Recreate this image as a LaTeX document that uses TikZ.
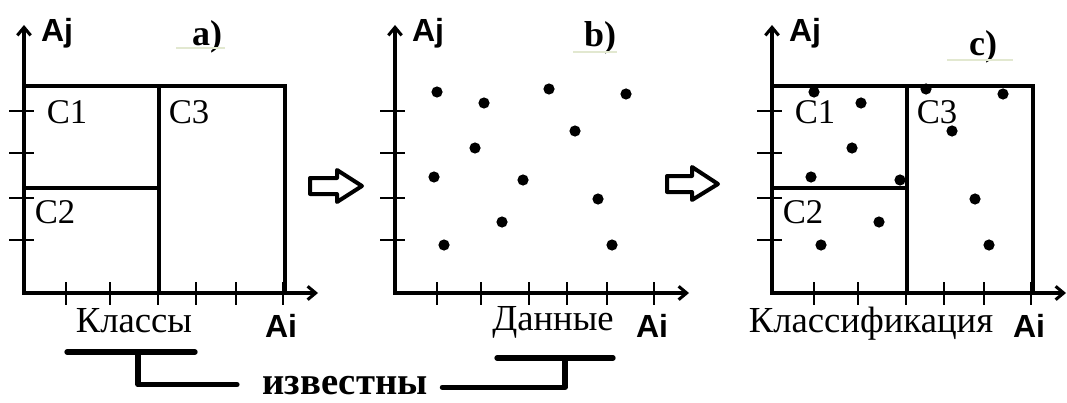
\documentclass[tikz,border=0pt]{standalone}
\usepackage{fontspec}
\setmainfont{Liberation Serif}
\newfontfamily\axisfont{Liberation Sans}
\usetikzlibrary{arrows.meta}

\tikzset{
  axisline/.style={line width=2.3pt,line join=miter,
    {Straight Barb[length=6pt,width=10pt]}-{Straight Barb[length=6pt,width=10pt]}},
  tickline/.style={line width=2pt},
  classline/.style={line width=2.3pt},
  datapoint/.style={circle,fill=black,inner sep=0pt,minimum size=8.4pt},
  clslabel/.style={inner sep=0pt,font=\fontsize{26}{26}\selectfont},
  axislabel/.style={inner sep=0pt,font=\axisfont\bfseries\fontsize{24}{24}\selectfont},
  panellabel/.style={inner sep=0pt,font=\bfseries\fontsize{27}{27}\selectfont},
  bottomlabel/.style={inner sep=0pt,font=\fontsize{27.5}{27.5}\selectfont},
  faintline/.style={line width=1.2pt,draw={rgb,255:red,226;green,232;blue,208}},
  bracket/.style={line width=4pt,line cap=round,line join=round},
  hollowarrow/.style={line width=3pt,line join=round}
}

\begin{document}
\begin{tikzpicture}[x=0.75pt,y=-0.75pt]
\useasboundingbox (0,0) rectangle (1067,403);

% axes with ticks, three panels
\foreach \ox/\p in {24/a,395/b,772/c}{
  \coordinate (o\p) at (\ox,293);
  \coordinate (xend\p) at (\ox+294,293);
  \coordinate (yend\p) at (\ox,25);
  \draw[axisline] (yend\p) |- (xend\p);
  \foreach \t in {42,86,134,172,212,259}
    \draw[tickline] (\ox+\t,282) -- (\ox+\t,305);
  \foreach \t in {111,153,198,240}
    \draw[tickline] (\ox-15,\t) -- (\ox+10,\t);
  \node[axislabel] (aj\p) at (\ox+33,33) {Aj};
  \node[axislabel] (ai\p) at (\ox+257,326) {Ai};
}

% class borders in a) and c)
\foreach \ox/\p in {24/a,772/c}{
  \draw[classline] (\ox,86) -| (\ox+261,293);
  \draw[classline] (\ox+135,86) -- (\ox+135,293);
  \draw[classline] (\ox,188) -- (\ox+135,188);
  \node[clslabel] (cone\p) at (\ox+43,112) {C1};
  \node[clslabel] (ctwo\p) at (\ox+31,212) {C2};
  \node[clslabel] (cthree\p) at (\ox+165,112) {C3};
}

% data points in b) and c)
\foreach \ox/\p in {395/b,772/c}{
  \foreach \dx/\dy [count=\k] in {42/-201,89/-190,154/-204,231/-199,180/-162,80/-145,
      39/-116,128/-113,203/-94,107/-71,49/-48,217/-48}
    \node[datapoint] (pt\p\k) at (\ox+\dx,293+\dy) {};
}

% panel letters
\node[panellabel] (laba) at (207,37) {a)};
\draw[faintline] (176,48) -- (225,48);
\node[panellabel] (labb) at (600,38) {b)};
\draw[faintline] (573,52) -- (617,52);
\node[panellabel] (labc) at (983,47) {c)};
\draw[faintline] (947,60) -- (1013,60);

% captions under the axes
\node[bottomlabel] (classes) at (134,321) {Классы};
\node[bottomlabel] (data) at (553,322) {Данные};
\node[bottomlabel] (classif) at (871,324) {Классификация};

% hollow arrows between panels
\draw[hollowarrow] (310,178) -- (337,178) -- (337,170) -- (362,186) -- (337,202)
  -- (337,194) -- (310,194) -- cycle;
\draw[hollowarrow] (667,176) -- (692,176) -- (692,167) -- (718,184) -- (692,200)
  -- (692,192) -- (667,192) -- cycle;

% brackets to "known"
\node[inner sep=0pt,font=\bfseries\fontsize{29}{29}\selectfont] (known) at (345,386) {известны};
\coordinate (brleft) at (138,352);
\coordinate (brright) at (565,358);
\draw[bracket] (67,352) -- (195,352);
\draw[bracket] (497,358) -- (613,358);
\draw[bracket] ([xshift=-19pt,yshift=1pt]known.west) -| (brleft);
\draw[bracket] ([xshift=11pt,yshift=-1pt]known.east) -| (brright);
\end{tikzpicture}
\end{document}
